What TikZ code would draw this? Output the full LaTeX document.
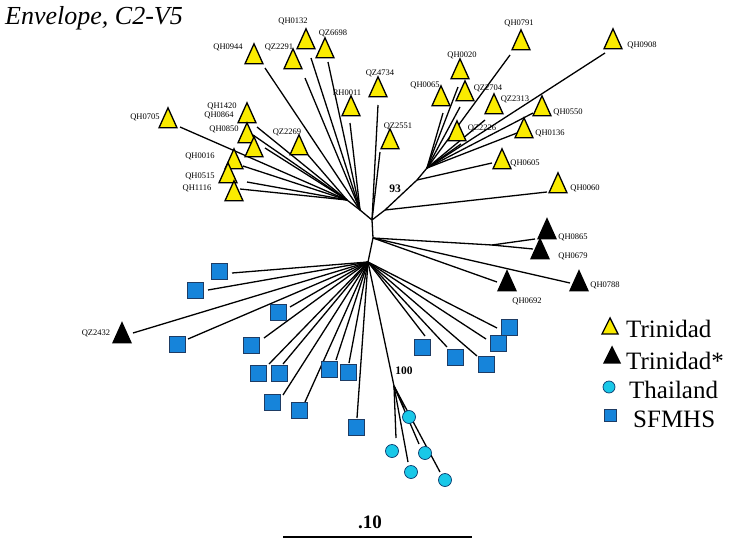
\documentclass[tikz,border=0pt]{standalone}
\usepackage{fontspec}
\setmainfont{Liberation Serif}
\usepackage{tikz}
\usetikzlibrary{shapes.geometric, positioning}
\definecolor{trinyellow}{RGB}{250,235,0}
\definecolor{sfblue}{RGB}{22,132,218}
\definecolor{sfedge}{RGB}{30,60,100}
\definecolor{thaicyan}{RGB}{25,200,232}
\definecolor{thaiedge}{RGB}{10,60,110}
\tikzset{
  branch/.style={line width=1.3pt, black},
  trintri/.style={
    isosceles triangle, isosceles triangle apex angle=48,
    isosceles triangle stretches, shape border rotate=90,
    minimum width=18pt, minimum height=20pt, inner sep=0pt,
    draw=black, line width=1.3pt, fill=trinyellow
  },
  startri/.style={trintri, fill=black},
  thaidot/.style={circle, minimum size=13pt, inner sep=0pt,
    draw=thaiedge, line width=0.7pt, fill=thaicyan},
  sfbox/.style={rectangle, minimum size=16pt, inner sep=0pt,
    draw=sfedge, line width=0.7pt, fill=sfblue},
  leaflabel/.style={font=\fontsize{8.5}{9}\selectfont, inner sep=0pt},
  bootlabel/.style={font=\fontsize{11.5}{12}\selectfont\bfseries, inner sep=0pt},
  legendtext/.style={font=\fontsize{25}{27}\selectfont, anchor=base west, inner sep=0pt}
}

% name/x/y/label x/label y/end x/end y/parent
\def\yellowleaves{%
  QH0705/168/122/145/117/180/127/a2,
  QH1420/247/117/222/106/257/127/a2,
  QH0864/247/137/219/115/253/135/a2,
  QH0850/254/151/224/129/265/148/a2,
  QH0016/234/163/200/156/243/166/a2,
  QH0515/228/177/200/176/247/182/a2,
  QH1116/234/195/197/188/240/189/a2,
  QZ2269/299/149/287/132/308/155/a2,
  QH0944/254/58/228/47/265/68/a1,
  QZ2291/293/63/279/47/305/78/a1,
  QH0132/306/43/293/21/311/58/a1,
  QZ6698/325/52/333/33/328/62/a1,
  RH0011/351/110/347/93/350/123/a1,
  QZ4734/378/91/380/73/378/105/hubT,
  QZ2551/390/143/398/126/380/152/hubT,
  QH0791/521/44/519/23/510/55/fanR,
  QH0908/613/43/642/45/605/53/fanR,
  QH0020/460/73/462/55/458/87/fanR,
  QH0065/441/100/425/85/443/113/fanR,
  QZ2704/465/95/488/88/460/107/fanR,
  QZ2313/494/108/515/99/485/120/fanR,
  QH0550/542/110/568/112/533/113/fanR,
  QH0136/524/132/550/133/517/133/fanR,
  QZ2226/457/135/482/128/461/144/fanR,
  QH0605/502/163/525/163/492/163/b2,
  QH0060/558/187/585/188/547/192/b93}
\def\blackleaves{%
  QH0865/547/233/573/237/535/239/pairR,
  QH0679/540/253/573/256/533/249/pairR,
  QH0692/507/285/527/301/497/282/hubM,
  QH0788/579/285/605/285/570/283/hubM,
  QZ2432/122/337/96/333/133/333/hubB}
% name/x/y/end x/end y
\def\sfleaves{%
  s1/219/271/232/273, s2/195/290/208/290, s3/278/312/290/307,
  s4/177/344/188/339, s5/251/345/264/338, s6/258/373/269/364,
  s7/279/373/283/364, s8/329/369/336/360, s9/348/372/349/363,
  s10/272/402/283/395, s11/299/410/305/402, s12/356/427/357/418,
  s13/422/347/425/336, s14/455/357/447/347, s15/486/364/477/356,
  s16/498/343/486/339, s17/509/327/497/328}
\def\thaileaves{%
  d1/409/417/404/408, d2/392/451/396/438, d3/425/453/419/444,
  d4/411/472/408/462, d5/445/480/440/472}

\begin{document}
\begin{tikzpicture}[x=1pt, y=-1pt]
  \useasboundingbox (0,0) rectangle (729,541);

  % Title
  \node[font=\fontsize{26}{28}\selectfont\itshape, anchor=base west, inner sep=0pt]
    (title) at (5,24) {Envelope, C2-V5};

  % Inner nodes
  \coordinate (a2) at (347,200);
  \coordinate (a1) at (360,210);
  \coordinate (hubT) at (372,220);
  \coordinate (b93) at (385,210);
  \coordinate (b2) at (417,180);
  \coordinate (fanR) at (427,168);
  \coordinate (hubM) at (373,238);
  \coordinate (pairR) at (492,245);
  \coordinate (hubB) at (368,262);
  \coordinate (th) at (394,386);

  % Inner branches
  \draw[branch] (a2) -- (a1) -- (hubT) -- (hubM) -- (hubB);
  \draw[branch] (hubT) -- (b93) -- (b2) -- (fanR);
  \draw[branch] (hubM) -- (pairR);
  \draw[branch] (hubB) -- (th);

  % Leaf branches
  \foreach \n/\x/\y/\lx/\ly/\ex/\ey/\p in \yellowleaves {
    \coordinate (e\n) at (\ex,\ey);
    \draw[branch] (\p) -- (e\n);
  }
  \foreach \n/\x/\y/\lx/\ly/\ex/\ey/\p in \blackleaves {
    \coordinate (e\n) at (\ex,\ey);
    \draw[branch] (\p) -- (e\n);
  }
  \foreach \n/\x/\y/\ex/\ey in \sfleaves {
    \coordinate (e\n) at (\ex,\ey);
    \draw[branch] (hubB) -- (e\n);
  }
  \foreach \n/\x/\y/\ex/\ey in \thaileaves {
    \coordinate (e\n) at (\ex,\ey);
    \draw[branch] (th) -- (e\n);
  }

  % Leaf symbols and names
  \foreach \n/\x/\y/\lx/\ly/\ex/\ey/\p in \yellowleaves {
    \node[trintri] (\n) at (\x,\y) {};
    \node[leaflabel] (l\n) at (\lx,\ly) {\n};
  }
  \foreach \n/\x/\y/\lx/\ly/\ex/\ey/\p in \blackleaves {
    \node[startri] (\n) at (\x,\y) {};
    \node[leaflabel] (l\n) at (\lx,\ly) {\n};
  }
  \foreach \n/\x/\y/\ex/\ey in \sfleaves
    \node[sfbox] (\n) at (\x,\y) {};
  \foreach \n/\x/\y/\ex/\ey in \thaileaves
    \node[thaidot] (\n) at (\x,\y) {};

  % Bootstrap values
  \node[bootlabel] (boot93) at (395,189) {93};
  \node[bootlabel] (boot100) at (404,371) {100};

  % Legend
  \node[trintri, minimum width=16pt, minimum height=16pt] (legtrin) at (610,329) {};
  \node[startri, minimum width=16pt, minimum height=16pt] (legstar) at (612,358) {};
  \node[thaidot, minimum size=12pt] (legthai) at (609,387) {};
  \node[sfbox, minimum size=12pt] (legsf) at (610,415) {};
  \node[legendtext] (txttrin) at (626,337) {Trinidad};
  \node[legendtext] (txtstar) at (626,369) {Trinidad*};
  \node[legendtext] (txtthai) at (629,398) {Thailand};
  \node[legendtext] (txtsf) at (633,427) {SFMHS};

  % Scale bar
  \coordinate (barL) at (283,537);
  \coordinate (barR) at (472,537);
  \draw[branch, line width=1.5pt] (barL) -- (barR);
  \node[font=\fontsize{19}{20}\selectfont\bfseries, anchor=base, inner sep=0pt]
    (barlab) at (370,528) {.10};
\end{tikzpicture}
\end{document}
